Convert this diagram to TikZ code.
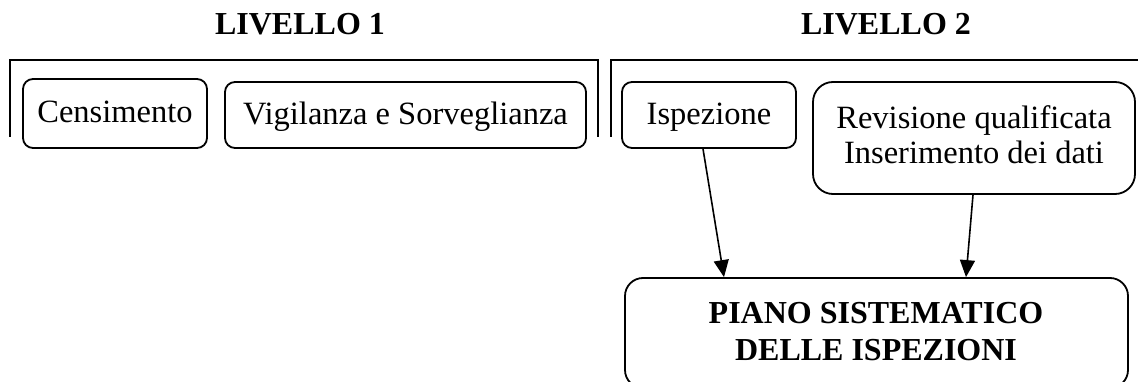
\documentclass[tikz,border=0pt]{standalone}
\usepackage{fontspec}
\setmainfont{Liberation Serif}
\usetikzlibrary{arrows.meta,calc}
\begin{document}
\begin{tikzpicture}[x=1pt,y=-1pt,
  every node/.style={font=\fontsize{32.5}{35}\selectfont, inner sep=0pt},
  sbox/.style={draw, line width=1.8pt, rounded corners=10pt, text height=21pt, text depth=2pt},
  bigbox/.style={draw, line width=1.8pt, rounded corners=18pt},
  brk/.style={line width=1.8pt},
  conn/.style={line width=1.6pt, -{Triangle[length=17pt,width=15pt]}},
  ttl/.style={font=\fontsize{32}{35}\selectfont\bfseries}
]
\clip (0,0) rectangle (1138,382);
\fill[white] (0,0) rectangle (1138,382);
% titles
\node[ttl] (t1) at (300,24) {LIVELLO 1};
\node[ttl] (t2) at (886,24) {LIVELLO 2};
% brackets
\draw[brk] (10,137) -- (10,60) -- (598,60) -- (598,137);
\draw[brk] (611,137) -- (611,60) -- (1140,60);
% boxes
\node[sbox, minimum width=184pt, minimum height=69pt] (cens) at (115,113.5) {Censimento};
\node[sbox, minimum width=361pt, minimum height=66pt] (vig) at (405.5,115) {Vigilanza e Sorveglianza};
\node[sbox, minimum width=174pt, minimum height=66pt] (isp) at (709,115) {Ispezione};
\node[bigbox, rounded corners=20pt, minimum width=322pt, minimum height=112pt] (rev) at (974,138) {};
\node[align=center, font=\fontsize{32.5}{35}\selectfont] (revtxt) at (974,135) {Revisione qualificata\\Inserimento dei dati};
\node[bigbox, minimum width=503pt, minimum height=110pt] (piano) at (876.5,333) {};
\node[ttl, align=center, font=\fontsize{32}{37}\selectfont\bfseries] (pianotxt) at (876,332) {PIANO SISTEMATICO\\DELLE ISPEZIONI};
% connectors
\draw[conn] ([xshift=-6pt]isp.south) -- ([xshift=-152.5pt]piano.north);
\draw[conn] ([xshift=-1pt]rev.south) -- ([xshift=89.5pt]piano.north);
\end{tikzpicture}
\end{document}
